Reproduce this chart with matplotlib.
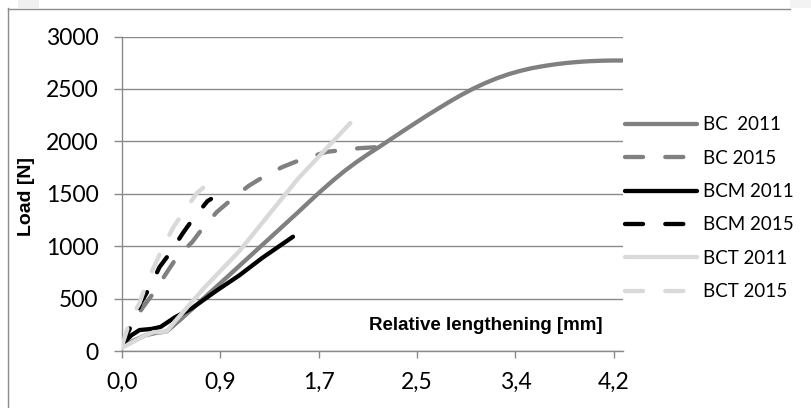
import numpy as np
import matplotlib
matplotlib.use("Agg")
import matplotlib.pyplot as plt
from matplotlib.lines import Line2D
from matplotlib.patches import Rectangle

# ---------------- data ----------------
x_tick_labels = ["0,0", "0,9", "1,7", "2,5", "3,4", "4,2"]
y_ticks = [0, 500, 1000, 1500, 2000, 2500, 3000]

bc2011_x = [0.0, 0.1, 0.2, 0.3, 0.38, 0.5, 0.7, 0.9, 1.1, 1.3, 1.5, 1.6, 1.7, 1.8, 1.9, 2.0, 2.1, 2.2,
            2.3, 2.4, 2.5, 2.6, 2.7, 2.8, 2.9, 3.0, 3.1, 3.2, 3.3, 3.4, 3.5, 3.6, 3.7, 3.8, 3.9,
            4.0, 4.1, 4.2, 4.27]
bc2011_y = [40, 100, 150, 175, 185, 300, 505, 708, 912, 1116, 1320, 1425, 1527, 1625, 1717, 1800, 1877, 1949,
            2024, 2098, 2171, 2243, 2312, 2380, 2444, 2503, 2555, 2601, 2640, 2672, 2698, 2718, 2735, 2748, 2758,
            2765, 2769, 2771, 2771]

bc2015_x = [0.0, 0.08, 0.18, 0.27, 0.38, 0.47, 0.6, 0.69, 0.81, 0.94, 1.08, 1.22, 1.37, 1.52, 1.75, 2.03, 2.2]
bc2015_y = [50, 250, 420, 555, 745, 897, 1040, 1173, 1326, 1450, 1574, 1670, 1755, 1822, 1900, 1935, 1946]

bcm2011_x = [0.0, 0.08, 0.15, 0.25, 0.33, 0.45, 0.6, 0.8, 1.0, 1.2, 1.46]
bcm2011_y = [60, 150, 200, 210, 230, 320, 410, 570, 720, 890, 1090]

bcm2015_x = [0.0, 0.09, 0.16, 0.24, 0.32, 0.41, 0.52, 0.6, 0.73, 0.76]
bcm2015_y = [60, 270, 460, 610, 800, 935, 1125, 1250, 1430, 1450]

bct2011_x = [0.0, 0.1, 0.2, 0.27, 0.38, 0.45, 0.7, 1.0, 1.5, 1.95]
bct2011_y = [30, 90, 150, 180, 185, 280, 600, 950, 1640, 2175]

bct2015_x = [0.0, 0.07, 0.15, 0.21, 0.3, 0.35, 0.44, 0.52, 0.64, 0.75]
bct2015_y = [50, 295, 458, 650, 868, 992, 1183, 1316, 1507, 1610]

series_names = ["BC  2011", "BC 2015", "BCM 2011", "BCM 2015", "BCT 2011", "BCT 2015"]

# ---------------- figure ----------------
W, H = 812, 408
fig = plt.figure(figsize=(W / 100, H / 100), dpi=100)
fig.patch.set_facecolor("white")

def fx(px):
    return px / W

def fy(py):
    return 1 - py / H

left, right, top, bottom = 122, 623, 36.5, 351
ax = fig.add_axes([fx(left), fy(bottom), fx(right - left), (bottom - top) / H])

GRAY = "#808080"
LIGHT = "#d9d9d9"
BLACK = "#000000"
GRID = "#8a8a8a"

lw = 3.1
on, off = 13, 16
series = [
    (bc2011_x, bc2011_y, GRAY, "-"),
    (bc2015_x, bc2015_y, GRAY, "--"),
    (bcm2011_x, bcm2011_y, BLACK, "-"),
    (bcm2015_x, bcm2015_y, BLACK, "--"),
    (bct2011_x, bct2011_y, LIGHT, "-"),
    (bct2015_x, bct2015_y, LIGHT, "--"),
]
handles = []
for (xs, ys, c, ls), name in zip(series, series_names):
    ln, = ax.plot(xs, ys, color=c, lw=lw, solid_capstyle="round", dash_capstyle="round",
                  solid_joinstyle="round", label=name, zorder=3)
    if ls == "--":
        ln.set_dashes((on / lw, off / lw))
    handles.append(ln)

xmax = 4.278
ax.set_xlim(0, xmax)
ax.set_ylim(0, 3000)
ax.set_xticks(np.linspace(0, 4.2, len(x_tick_labels)))
ax.set_xticklabels(x_tick_labels)
ax.set_yticks(y_ticks)
ax.set_yticklabels([str(v) for v in y_ticks])

ax.grid(axis="y", color=GRID, lw=1.0, zorder=1)
ax.set_axisbelow(True)
for s in ["top", "right"]:
    ax.spines[s].set_visible(False)
for s in ["left", "bottom"]:
    ax.spines[s].set_color(GRID)
    ax.spines[s].set_linewidth(1.0)

ax.tick_params(axis="y", direction="out", length=5.8, width=1.0, color=GRID, pad=11, labelsize=16.5)
ax.tick_params(axis="x", direction="out", length=5.0, width=1.0, color=GRID, pad=10, labelsize=16.5)
for lab in ax.get_xticklabels() + ax.get_yticklabels():
    lab.set_fontfamily("Lato")
    lab.set_color("#000000")

# axis titles
fig.text(fx(369), fy(326), "Relative lengthening [mm]", ha="left", va="center",
         fontsize=13.5, fontweight="bold", family="Liberation Sans")
fig.text(fx(27), fy(196), "Load [N]", ha="center", va="center", rotation=90,
         fontsize=14, fontweight="bold", family="Liberation Sans")

# legend
leg = fig.legend(handles=handles, loc="upper left", bbox_to_anchor=(fx(625), fy(116.5)),
                 frameon=False, prop=dict(family="Lato", size=13.5),
                 handlelength=3.85, handletextpad=0.3, labelspacing=0.87,
                 borderaxespad=0, borderpad=0)

# chart-area border
fig.add_artist(Line2D([fx(8.5), fx(8.5)], [fy(8), fy(H + 5)], color="#8c8c8c", lw=1.0,
                      transform=fig.transFigure))
fig.add_artist(Line2D([fx(8), fx(790)], [fy(8.5), fy(8.5)], color="#8c8c8c", lw=1.0,
                      transform=fig.transFigure))
fig.add_artist(Rectangle((fx(18), fy(8)), fx(21), 8 / H, color="#f0f0f0", lw=0,
                         transform=fig.transFigure))
fig.add_artist(Rectangle((fx(790), fy(8)), fx(22), 8 / H, color="#f3f3f3", lw=0,
                         transform=fig.transFigure))

fig.savefig("out.png", dpi=100)
